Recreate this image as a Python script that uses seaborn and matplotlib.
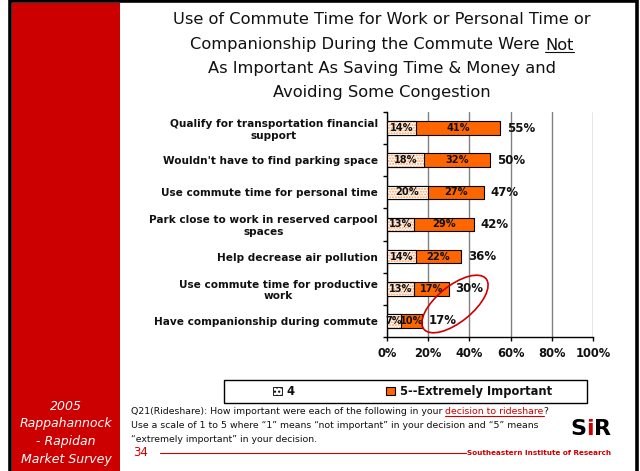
import numpy as np
import pandas as pd
import seaborn as sns
import matplotlib.pyplot as plt
from matplotlib.patches import Rectangle, Ellipse, Patch
from matplotlib.lines import Line2D
from matplotlib.font_manager import FontProperties

# ---- data -------------------------------------------------------------
items = [
    "Qualify for transportation financial\nsupport",
    "Wouldn't have to find parking space",
    "Use commute time for personal time",
    "Park close to work in reserved carpool\nspaces",
    "Help decrease air pollution",
    "Use commute time for productive\nwork",
    "Have companionship during commute",
]
rating_4 = [14, 18, 20, 13, 14, 13, 7]
rating_5 = [41, 32, 27, 29, 22, 17, 10]
x_ticks = [0, 20, 40, 60, 80, 100]
series_labels = ["4", "5--Extremely Important"]

title_lines = [
    "Use of Commute Time for Work or Personal Time or",
    "Companionship During the Commute Were ",
    "As Important As Saving Time & Money and",
    "Avoiding Some Congestion",
]

ORANGE = "#FF6600"
DOT = "#FF9A55"
RED = "#CC0000"
INK = "#111111"

df = pd.DataFrame({"item": items, "v4": rating_4, "v5": rating_5})
df["total"] = df["v4"] + df["v5"]

# ---- figure -----------------------------------------------------------
sns.set_theme(style="white")
plt.rcParams["font.family"] = ["DejaVu Sans"]
plt.rcParams["hatch.linewidth"] = 1.0

W, H = 640, 471
fig = plt.figure(figsize=(W / 100, H / 100), dpi=100)
fig.patch.set_facecolor("white")


def fx(x):
    return x / W


def fy(y):
    return 1 - y / H


# slide frame and red side panel
fig.patches.append(Rectangle((fx(12), fy(471)), fx(120) - fx(12), fy(3) - fy(471),
                             transform=fig.transFigure, facecolor=RED, edgecolor="none", zorder=0))
fig.patches.append(Rectangle((fx(10), fy(476)), fx(637) - fx(10), fy(1.5) - fy(476),
                             transform=fig.transFigure, facecolor="none", edgecolor="black",
                             linewidth=2.6, zorder=1))

# ---- bars ---------------------------------------------------------------
ax = fig.add_axes([fx(387), fy(337), (593 - 387) / W, (337 - 112) / H])
ax.set_facecolor("white")
bw = 0.42
sns.barplot(data=df, x="total", y="item", color=ORANGE, saturation=1, width=bw,
            edgecolor="black", linewidth=0.8, ax=ax, zorder=3)
n_first = len(ax.patches)
sns.barplot(data=df, x="v4", y="item", color="white", saturation=1, width=bw,
            edgecolor=DOT, linewidth=0, ax=ax, zorder=4)
for p in ax.patches[n_first:]:
    p.set_hatch("......")
sns.barplot(data=df, x="v4", y="item", color="black", fill=False, width=bw,
            linewidth=0.8, ax=ax, zorder=5)

for i, row in df.iterrows():
    ax.text(row.v4 / 2, i, f"{row.v4}%", ha="center", va="center",
            fontsize=7.1, fontweight="bold", color=INK, zorder=6)
    ax.text(row.v4 + row.v5 / 2, i, f"{row.v5}%", ha="center", va="center",
            fontsize=7.1, fontweight="bold", color=INK, zorder=6)
    ax.text(row.total + 3.3, i, f"{row.total}%", ha="left", va="center",
            fontsize=8.5, fontweight="bold", color=INK, zorder=6)

ax.set_xlim(0, 100)
ax.set_ylim(len(items) - 0.5, -0.5)
ax.set_xticks(x_ticks)
ax.set_xticklabels([f"{t}%" for t in x_ticks], fontsize=8.3, fontweight="bold", color=INK)
ax.set_xlabel("")
ax.set_ylabel("")
ax.xaxis.grid(True, color="#808080", linewidth=1)
ax.yaxis.grid(False)
ax.set_axisbelow(True)
for s in ["top", "right"]:
    ax.spines[s].set_visible(False)
for s in ["left", "bottom"]:
    ax.spines[s].set_color("black")
    ax.spines[s].set_linewidth(1)
ax.tick_params(axis="x", bottom=True, length=3, width=1, color="black", pad=4)
ax.set_yticks(np.arange(-0.5, len(items), 1), minor=True)
ax.tick_params(axis="y", which="minor", left=True, length=3, width=1, color="black")
ax.tick_params(axis="y", which="major", left=False, length=0, pad=6.5)
for t in ax.get_yticklabels():
    t.set_fontsize(7.6)
    t.set_fontweight("bold")
    t.set_color(INK)
    t.set_multialignment("center")

# highlight ring around the lowest totals
fig.add_artist(Ellipse((4.55, (H - 304) / 100), 0.80, 0.36, angle=39,
                       transform=fig.dpi_scale_trans, fill=False,
                       edgecolor=RED, linewidth=1.2, zorder=10))

# ---- text helpers ---------------------------------------------------------
renderer = fig.canvas.get_renderer()


def text_width(s, fp):
    return renderer.get_text_width_height_descent(s, fp, ismath=False)[0]


def draw_runs(runs, y, size, x_center=None, x_left=None, weight="normal"):
    """Draw a line made of differently styled runs; runs = (text, color, underline)."""
    fp = FontProperties(family="DejaVu Sans", size=size, weight=weight)
    full = "".join(r[0] for r in runs)
    total = text_width(full, fp)
    x0 = x_left if x_left is not None else x_center - total / 2
    ref = text_width("x", fp)
    prefix = ""
    for s, color, under in runs:
        start = x0 + (text_width(prefix + "x", fp) - ref if prefix else 0)
        fig.text(fx(start), fy(y), s, ha="left", va="center", fontproperties=fp, color=color)
        if under:
            w = text_width(s, fp)
            fig.add_artist(Line2D([fx(start), fx(start + w)], [fy(y + size * 0.62), fy(y + size * 0.62)],
                                  transform=fig.transFigure, color=color, linewidth=0.8))
        prefix += s


# title
title_y = [20, 45, 69, 92]
for k, (line, yy) in enumerate(zip(title_lines, title_y)):
    if k == 1:
        draw_runs([(line, INK, False), ("Not", INK, True)], yy, 11.7, x_center=382)
    else:
        draw_runs([(line, INK, False)], yy, 11.7, x_center=382)

# legend
fig.patches.append(Rectangle((fx(224), fy(403)), fx(587) - fx(224), fy(380) - fy(403),
                             transform=fig.transFigure, facecolor="white", edgecolor="black",
                             linewidth=1, zorder=1))
handles = [Patch(facecolor="white", edgecolor=DOT, hatch="....", linewidth=0),
           Patch(facecolor=ORANGE, edgecolor="black", linewidth=0.8)]
leg = fig.legend(handles, series_labels, loc="center left", bbox_to_anchor=(fx(273), fy(391.5)),
                 ncol=2, frameon=False, handlelength=0.75, handleheight=0.75,
                 handletextpad=0.4, columnspacing=8.0, borderpad=0, borderaxespad=0,
                 prop=FontProperties(family="DejaVu Sans", size=8.3, weight="bold"))
leg.set_zorder(5)
for txt in leg.get_texts():
    txt.set_color(INK)
for h in leg.legend_handles[:1]:
    h.set_edgecolor("black")
    h.set_linewidth(0.6)

# question footnote
fs = 6.75
draw_runs([("Q21(Rideshare): How important were each of the following in your ", INK, False),
           ("decision to rideshare", RED, True), ("?", INK, False)], 412, fs, x_left=131)
draw_runs([("Use a scale of 1 to 5 where \u201c1\u201d means \u201cnot important\u201d in your decision and \u201c5\u201d means",
            INK, False)], 426, fs, x_left=131)
draw_runs([("\u201cextremely important\u201d in your decision.", INK, False)], 440, fs, x_left=131)

# page number, rule and company name
fig.text(fx(141), fy(453), "34", ha="center", va="center", fontsize=8.5, color=RED)
fig.add_artist(Line2D([fx(160), fx(466)], [fy(453), fy(453)], transform=fig.transFigure,
                      color=RED, linewidth=0.8))
fig.text(fx(611), fy(453), "Southeastern Institute of Research", ha="right", va="center",
         fontsize=5.2, color=RED, fontweight="bold")

# company mark
fig.text(fx(578), fy(429), "S", ha="center", va="center", fontsize=16, fontweight="heavy", color="black")
fig.text(fx(590), fy(429), "i", ha="center", va="center", fontsize=16, fontweight="heavy", color=RED)
fig.text(fx(602), fy(429), "R", ha="center", va="center", fontsize=16, fontweight="heavy", color="black")

# side panel caption
for s, yy in zip(["2005", "Rappahannock", "- Rapidan", "Market Survey"], [407, 424, 442, 459]):
    fig.text(fx(66), fy(yy), s, ha="center", va="center", fontsize=9, style="italic", color="white")

fig.savefig("out.png", dpi=100)
